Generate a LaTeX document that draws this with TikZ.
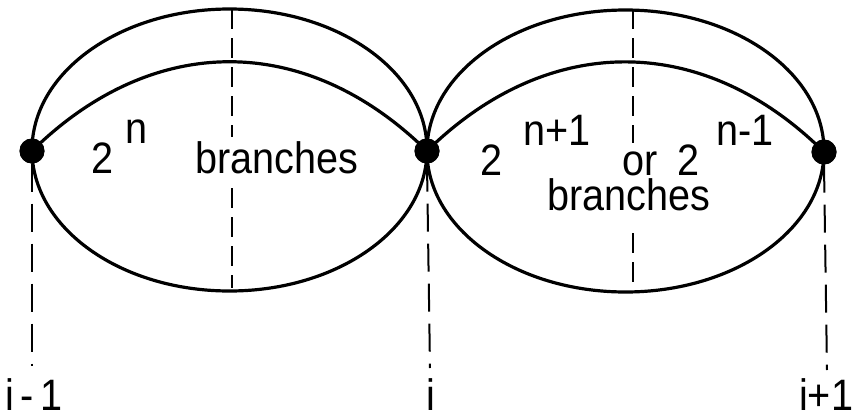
\documentclass[tikz,border=0pt]{standalone}
\usepackage{fontspec}
\setmainfont{Liberation Sans}
\newcommand\lbltext[1]{\scalebox{0.9}[1]{#1}}
\begin{document}
\begin{tikzpicture}[x=1pt,y=-1pt,
  curve/.style={line width=3.2pt},
  guide/.style={line width=2pt, dash pattern=on 20pt off 9pt},
  sideguide/.style={line width=2pt, dash pattern=on 28pt off 12pt},
  dotnode/.style={circle, fill=black, minimum size=25pt, inner sep=0pt},
  lbl/.style={font=\fontsize{44}{50}\selectfont, inner sep=0pt, anchor=base west}]
\useasboundingbox (0,0) rectangle (855,418);
% dots
\node[dotnode] (dL) at (32,151) {};
\node[dotnode] (dM) at (427,151) {};
\node[dotnode] (dR) at (824,152) {};
% guide ends
\coordinate (eL) at (32,366);
\coordinate (eM) at (430,368);
\coordinate (eR) at (827,370);
% dashed guides
\draw[sideguide] (dL.south) -- (eL);
\draw[sideguide] (dM.south) -- (eM);
\draw[sideguide] (dR.south) -- (eR);
\draw[guide] (232,9) -- (232,137);
\draw[guide] (232,188) -- (232,288);
\draw[guide] (633,9) -- (633,143);
\draw[guide] (633,233) -- (633,290);
% lenses
\draw[curve] (229.5,150) ellipse [x radius=197.5pt, y radius=141pt];
\draw[curve] (625.5,151) ellipse [x radius=198.5pt, y radius=141pt];
\draw[curve] (dL.center) .. controls (153,32) and (306,32) .. (dM.center);
\draw[curve] (dM.center) .. controls (548,32) and (703,32) .. (dR.center);
\node[dotnode] at (dL) {};
\node[dotnode] at (dM) {};
\node[dotnode] at (dR) {};
% texts
\node[lbl] (t1) at (91,173) {\lbltext{2}};
\node[lbl] (t2) at (125,143) {\lbltext{n}};
\node[lbl] (t3) at (195,173) {\lbltext{branches}};
\node[lbl] (t4) at (480,175) {\lbltext{2}};
\node[lbl] (t5) at (523,145) {\lbltext{n+1}};
\node[lbl] (t6) at (622,175) {\lbltext{or}};
\node[lbl] (t7) at (677,175) {\lbltext{2}};
\node[lbl] (t8) at (716,145) {\lbltext{n-1}};
\node[lbl] (t9) at (547,210) {\lbltext{branches}};
\node[lbl] (l1) at (5,410) {\lbltext{i\,-\,1}};
\node[lbl] (l2) at (426,410) {\lbltext{i}};
\node[lbl] (l3) at (799,410) {\lbltext{i+1}};
\end{tikzpicture}
\end{document}
